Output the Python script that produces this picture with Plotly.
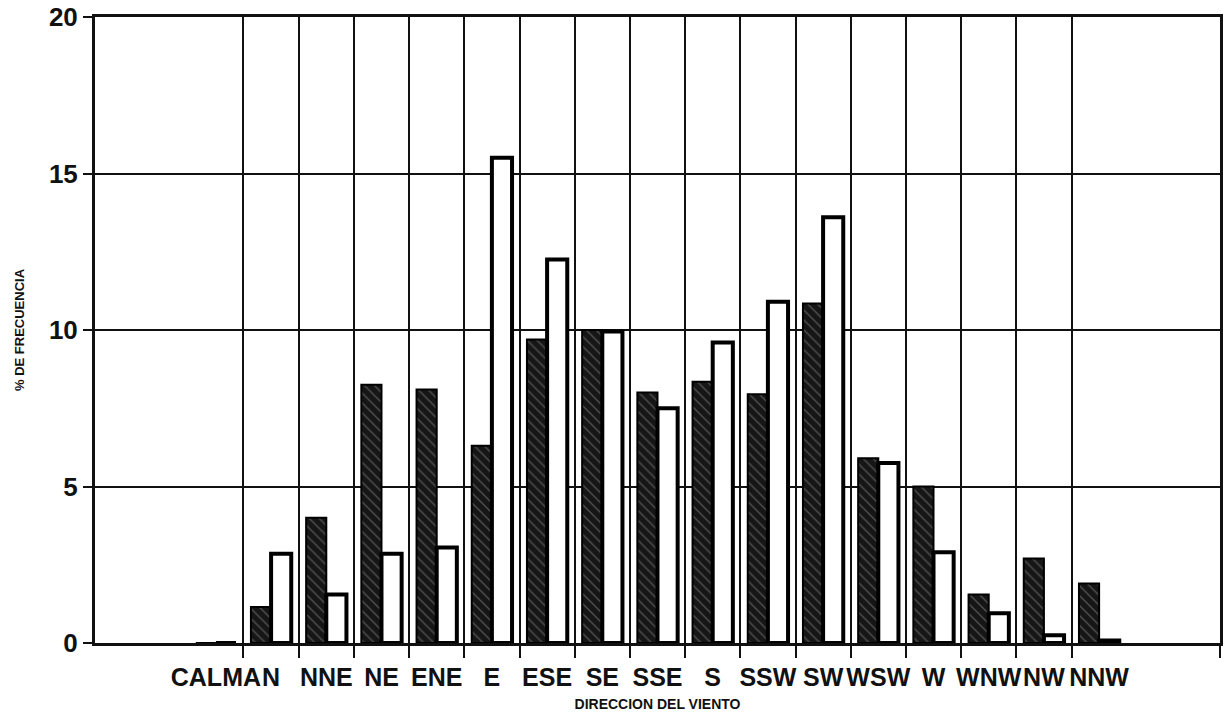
import plotly.graph_objects as go

categories = ["CALMA", "N", "NNE", "NE", "ENE", "E", "ESE", "SE", "SSE", "S",
              "SSW", "SW", "WSW", "W", "WNW", "NW", "NNW"]
serie_oscura = [0.0, 1.15, 4.0, 8.25, 8.1, 6.3, 9.7, 10.0, 8.0, 8.35,
                7.95, 10.85, 5.9, 5.0, 1.55, 2.7, 1.9]
serie_blanca = [0.0, 2.85, 1.55, 2.85, 3.05, 15.5, 12.25, 9.95, 7.5, 9.6,
                10.9, 13.6, 5.75, 2.9, 0.95, 0.25, 0.08]
y_ticks = [0, 5, 10, 15, 20]

pos = list(range(len(categories)))
bounds = [p + 0.5 for p in pos[:-1]]

font_fam = "Liberation Sans, Arial, sans-serif"

fig = go.Figure()
fig.add_trace(go.Bar(
    x=pos, y=serie_oscura, name="oscura",
    marker=dict(color="#161616",
                line=dict(color="#000000", width=2),
                pattern=dict(shape="\\", fgcolor="#8a8a8a", bgcolor="#161616",
                             size=7, solidity=0.2)),
))
fig.add_trace(go.Bar(
    x=pos, y=serie_blanca, name="blanca",
    marker=dict(color="#ffffff", line=dict(color="#000000", width=4)),
))
# invisible trace to carry the boundary grid axis
fig.add_trace(go.Scatter(x=bounds, y=[0] * len(bounds), xaxis="x2",
                         mode="markers", marker=dict(opacity=0),
                         showlegend=False, hoverinfo="skip"))

xr = [-2.19, 18.19]
fig.update_layout(
    width=1228, height=713,
    margin=dict(l=95, r=8, t=17, b=70),
    paper_bgcolor="white", plot_bgcolor="white",
    barmode="group", bargap=0.27, bargroupgap=0.0,
    showlegend=False,
    font=dict(family=font_fam, color="#111111"),
    xaxis=dict(
        range=xr, tickmode="array", tickvals=pos, ticktext=categories,
        tickangle=0, showgrid=False, ticks="", automargin=False,
        ticklabelstandoff=10, ticklabeloverflow="allow",
        tickfont=dict(size=25, family=font_fam, weight="bold", color="#111"),
        showline=True, linecolor="#111", linewidth=3, mirror=True,
        zeroline=False,
        title=dict(text="DIRECCION DEL VIENTO", standoff=10,
                   font=dict(size=14, family=font_fam, weight="bold", color="#111")),
    ),
    xaxis2=dict(
        range=xr, overlaying="x", side="bottom", anchor="y", automargin=False,
        tickmode="array", tickvals=bounds + [xr[1]], showticklabels=False,
        ticks="outside", ticklen=14, tickwidth=2, tickcolor="#111",
        showgrid=True, gridcolor="#111", gridwidth=2, showline=False,
        zeroline=False,
    ),
    yaxis=dict(
        range=[0, 20], tickmode="array", tickvals=y_ticks, automargin=False,
        ticklabeloverflow="allow",
        ticks="outside", ticklen=9, tickwidth=2, tickcolor="#111",
        tickfont=dict(size=26, family=font_fam, weight="bold", color="#111"),
        showgrid=True, gridcolor="#111", gridwidth=2,
        showline=True, linecolor="#111", linewidth=3, mirror=True,
        zeroline=False,
        title=dict(text="% DE FRECUENCIA", standoff=22,
                   font=dict(size=13, family=font_fam, weight="bold", color="#111")),
    ),
)

fig.write_html("out.html",
               config={"displayModeBar": False},
               post_script="document.body.style.margin='0';document.body.style.overflow='hidden';")
